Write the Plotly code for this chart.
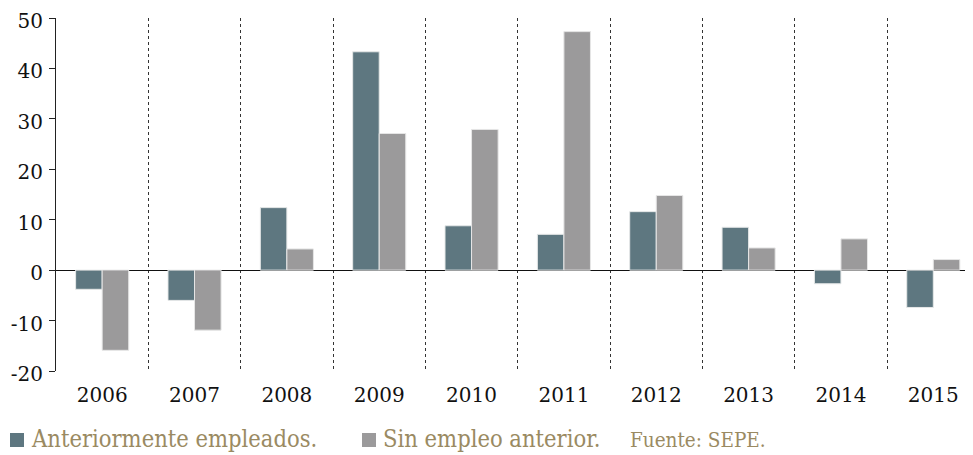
import plotly.graph_objects as go

years = ["2006", "2007", "2008", "2009", "2010", "2011", "2012", "2013", "2014", "2015"]
anteriormente = [-3.8, -6.0, 12.4, 43.3, 8.8, 7.1, 11.6, 8.5, -2.7, -7.4]
sin_empleo = [-15.9, -11.9, 4.2, 27.1, 27.9, 47.3, 14.8, 4.4, 6.2, 2.1]
y_ticks = [-20, -10, 0, 10, 20, 30, 40, 50]
y_tick_labels = ["-20", "-10", "0", "10", "20", "30", "40", "50"]

BLUE = "#5e7780"
GRAY = "#9b9a9b"
TAN = "#9a8a62"

x = list(range(len(years)))

fig = go.Figure()
fig.add_trace(go.Bar(x=x, y=anteriormente, name="Anteriormente empleados.",
                     marker=dict(color=BLUE, line=dict(color="#e6e8e8", width=1))))
fig.add_trace(go.Bar(x=x, y=sin_empleo, name="Sin empleo anterior.",
                     marker=dict(color=GRAY, line=dict(color="#e6e6e6", width=1))))

# page has an 8px body margin
OFF = 8
W, H = 973 - OFF, 455 - OFF
L, T = 56 - OFF, 18 - OFF
PW, PH = 917, 353
B = H - T - PH

fig.update_layout(
    width=W, height=H,
    margin=dict(l=L, r=0, t=T, b=B, autoexpand=False),
    plot_bgcolor="white", paper_bgcolor="white",
    barmode="group", bargap=0.425, bargroupgap=0,
    showlegend=False,
    font=dict(family="DejaVu Serif", color="#111"),
)
fig.update_xaxes(
    automargin=False,
    range=[-0.5, 9.43], tickvals=x, ticktext=years,
    tickfont=dict(size=20, family="DejaVu Serif", color="#111"),
    ticks="", ticklabelstandoff=10,
    showgrid=False, showline=False, zeroline=False,
    minor=dict(tick0=0.5, dtick=1, showgrid=True, griddash="dot",
               gridcolor="#333", gridwidth=1),
)
fig.update_yaxes(
    automargin=False,
    range=[-20, 50], tickvals=y_ticks, ticktext=y_tick_labels,
    tickfont=dict(size=20, family="DejaVu Serif", color="#111"),
    ticks="outside", ticklen=6, tickcolor="#222", ticklabeloverflow="allow",
    ticklabelstandoff=2, ticklabelshift=3,
    showline=True, linecolor="#222", linewidth=1,
    showgrid=False, zeroline=True, zerolinecolor="#111", zerolinewidth=1,
)

def px_x(p):
    return (p - OFF - L) / PW

def px_y(p):
    return (H - B - (p - OFF)) / PH

# legend (custom, below plot)
legend_items = [("Anteriormente empleados.", BLUE, 10), ("Sin empleo anterior.", GRAY, 362)]
for label, col, px in legend_items:
    fig.add_shape(type="rect", xref="paper", yref="paper",
                  x0=px_x(px), x1=px_x(px + 14),
                  y0=px_y(447), y1=px_y(433),
                  fillcolor=col, line=dict(width=0), layer="above")
    fig.add_annotation(text=label, xref="paper", yref="paper",
                       x=px_x(px + 19), y=px_y(439),
                       xanchor="left", yanchor="middle", showarrow=False,
                       font=dict(family="DejaVu Serif Condensed", size=23.5, color=TAN))
fig.add_annotation(text="Fuente: SEPE.", xref="paper", yref="paper",
                   x=px_x(628), y=px_y(440),
                   xanchor="left", yanchor="middle", showarrow=False,
                   font=dict(family="DejaVu Serif Condensed", size=20.5, color=TAN))

fig.write_html("out.html")
